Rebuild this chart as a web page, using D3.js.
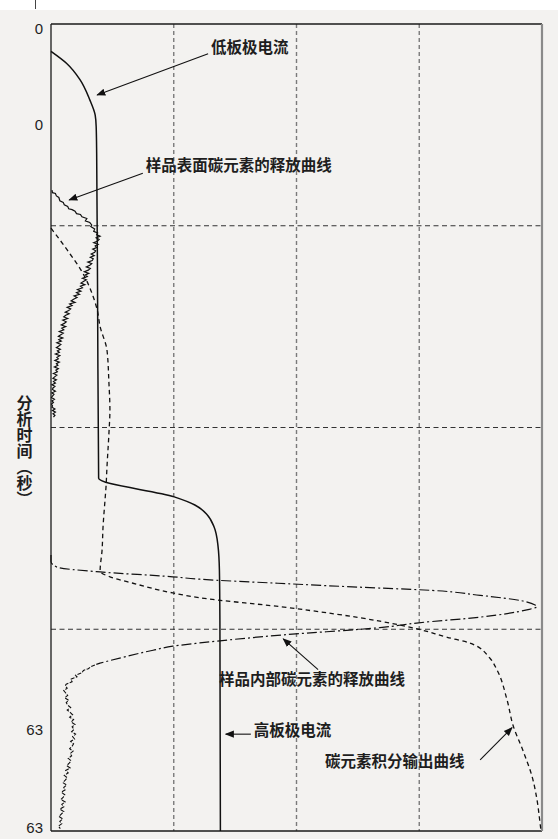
<!DOCTYPE html>
<html>
<head>
<meta charset="utf-8">
<script src="https://cdn.jsdelivr.net/npm/d3@7"></script>
<style>
  html, body { margin: 0; padding: 0; background: #ffffff; }
  svg { display: block; }
  .cjk { font-family: "Noto Sans CJK SC", "Noto Sans", sans-serif; font-weight: bold; fill: #1e1e1e; }
  .tick text { font-family: "Liberation Sans", Arial, sans-serif; font-size: 15px; fill: #1e1e1e; }
</style>
</head>
<body>
<svg id="chart" width="558" height="839"></svg>
<script>
// Signal strength (% of full scale) vs analysis time (% of run), read as [signal, time]

// plate current: low plate current phase, then high plate current phase
const plateCurrent = [
  [0, 3.4], [3.2, 4.9], [5.9, 6.9], [7.9, 9.4], [9.0, 11.3], [9.2, 12.7], [9.3, 16.0],
  [9.5, 35.7], [9.7, 56.3], [25.1, 58.6], [29.3, 59.6], [31.8, 60.8], [33.2, 62.3],
  [34.0, 64.6], [34.3, 67.7], [34.4, 73.9], [34.5, 100]
];

// surface carbon release (noisy detector trace)
const surfaceRelease = [
  [0.2, 20.6], [0.3, 20.9], [0.9, 21.0], [1.1, 21.3], [1.6, 21.5], [1.8, 21.9], [2.5, 22.1],
  [2.7, 22.4], [3.4, 22.6], [3.6, 22.9], [4.3, 23.0], [4.9, 23.2], [5.2, 23.5], [6.0, 23.6],
  [6.3, 23.9], [7.3, 24.1], [7.0, 24.4], [7.9, 24.6], [8.3, 24.9], [8.1, 25.1], [8.9, 25.4],
  [8.7, 25.7], [9.5, 25.9], [9.3, 26.1], [10.0, 26.3], [9.2, 26.5], [9.8, 26.7], [9.5, 26.9],
  [8.7, 27.1], [9.6, 27.3], [9.0, 27.5], [9.3, 27.7], [8.5, 27.9], [9.1, 28.1], [8.9, 28.3],
  [8.2, 28.5], [8.8, 28.7], [8.0, 28.9], [8.6, 29.1], [8.4, 29.3], [7.5, 29.5], [8.3, 29.7],
  [7.9, 29.9], [7.2, 30.1], [8.0, 30.3], [7.6, 30.5], [6.8, 30.7], [7.7, 30.9], [7.0, 31.1],
  [7.4, 31.3], [6.4, 31.5], [7.2, 31.7], [6.6, 31.9], [6.1, 32.1], [6.9, 32.3], [6.0, 32.5],
  [6.4, 32.7], [5.4, 32.9], [6.1, 33.1], [5.2, 33.3], [5.8, 33.5], [4.7, 33.7], [5.3, 33.9],
  [4.6, 34.1], [4.1, 34.3], [4.9, 34.5], [3.8, 34.7], [4.3, 34.9], [3.3, 35.1], [4.0, 35.3],
  [3.6, 35.5], [2.9, 35.7], [3.7, 35.9], [3.0, 36.1], [2.6, 36.3], [3.4, 36.5], [2.4, 36.7],
  [3.1, 36.9], [2.7, 37.1], [2.1, 37.3], [3.0, 37.5], [2.2, 37.7], [2.6, 37.9], [1.7, 38.1],
  [2.5, 38.3], [2.0, 38.5], [1.5, 38.7], [2.4, 38.9], [1.6, 39.1], [2.1, 39.3], [1.2, 39.5],
  [2.0, 39.7], [1.6, 39.9], [1.1, 40.1], [1.9, 40.3], [1.3, 40.5], [1.7, 40.7], [0.9, 40.9],
  [1.8, 41.1], [1.2, 41.3], [1.5, 41.5], [0.8, 41.7], [1.7, 41.9], [1.1, 42.1], [1.4, 42.3],
  [0.7, 42.5], [1.5, 42.7], [1.0, 42.9], [1.3, 43.1], [0.5, 43.3], [1.2, 43.5], [0.8, 43.7],
  [0.4, 43.9], [1.1, 44.1], [0.5, 44.3], [0.9, 44.5], [0.2, 44.7], [0.8, 44.9], [0.4, 45.1],
  [0.3, 45.3], [0.9, 45.5], [0.2, 45.7], [0.6, 45.9], [0.3, 46.1], [0.1, 46.3], [0.7, 46.5],
  [0.2, 46.7], [0.5, 46.9], [0.1, 47.1], [0.3, 47.3], [0.2, 47.5], [0.8, 47.7], [0.3, 47.9],
  [0.9, 48.1], [0.4, 48.3], [0.8, 48.5], [0.5, 48.7]
];

// internal carbon release: main peak
const internalRelease = [
  [0, 65.8], [0, 66.6], [1.2, 67.3], [10.0, 67.9], [24.8, 68.5], [30.3, 68.8], [46.2, 69.3],
  [67.0, 69.9], [74.9, 70.1], [87.4, 70.8], [96.1, 71.5], [98.6, 72.0], [99.0, 72.2],
  [96.9, 72.6], [87.4, 73.5], [74.9, 74.2], [67.0, 74.8], [47.3, 75.7], [30.3, 76.7],
  [24.8, 77.1], [20.8, 77.6], [10.0, 79.2]
];

// internal carbon release: noisy tail
const internalTail = [
  [10.0, 79.2], [9.0, 79.4], [8.2, 79.6], [7.6, 79.9], [6.6, 80.1], [6.3, 80.4], [5.0, 80.7],
  [5.3, 80.9], [4.0, 81.2], [4.3, 81.5], [3.1, 81.8], [2.9, 82.0], [3.3, 82.3], [2.6, 82.6],
  [3.0, 82.9], [3.4, 83.2], [2.8, 83.5], [3.6, 83.8], [3.1, 84.1], [3.4, 84.4], [4.0, 84.7],
  [3.3, 85.0], [3.9, 85.3], [4.4, 85.6], [3.8, 85.9], [4.6, 86.2], [4.1, 86.5], [4.9, 86.8],
  [4.3, 87.1], [4.7, 87.4], [4.2, 87.7], [5.0, 88.0], [4.4, 88.3], [4.8, 88.6], [4.0, 88.9],
  [4.6, 89.2], [4.3, 89.5], [3.8, 89.8], [4.5, 90.1], [3.9, 90.4], [4.2, 90.7], [3.5, 91.0],
  [4.1, 91.3], [3.7, 91.6], [3.2, 91.9], [3.9, 92.2], [3.0, 92.5], [3.5, 92.8], [2.7, 93.1],
  [3.3, 93.4], [2.9, 93.7], [2.4, 94.0], [3.2, 94.3], [2.6, 94.6], [2.9, 94.9], [2.1, 95.2],
  [2.8, 95.5], [2.5, 95.8], [2.0, 96.1], [2.9, 96.4], [2.2, 96.7], [2.6, 97.0], [1.8, 97.3],
  [2.6, 97.6], [2.1, 97.9], [1.6, 98.2], [2.4, 98.5], [1.8, 98.8], [2.2, 99.1], [1.5, 99.4],
  [1.9, 99.7]
];

// integrated carbon output
const integralOutput = [
  [0, 25.3], [3.3, 28.0], [6.5, 30.9], [8.6, 33.8], [9.4, 35.4], [10.0, 37.5], [11.4, 40.4],
  [11.8, 44.5], [12.0, 47.8], [11.8, 50.7], [11.4, 54.9], [11.2, 57.4], [11.0, 59.0],
  [10.6, 62.3], [10.4, 65.2], [10.0, 67.8], [12.0, 68.5], [16.7, 69.3], [24.8, 70.5],
  [30.3, 71.1], [46.6, 72.2], [67.0, 74.0], [74.9, 75.0], [80.7, 76.0], [85.3, 76.7],
  [89.4, 78.6], [90.8, 80.0], [92.9, 83.8], [94.1, 86.9], [96.1, 90.0], [98.0, 93.3],
  [99.0, 96.2], [99.6, 99.0], [99.8, 100]
];

// axis ticks
const timeTicks = [0, 12.5, 87.5, 100];
const timeTickLabels = ["0", "0", "63", "63"];
const signalGrid = [25, 50, 75];
const timeGrid = [25, 50, 75];

// callouts: text anchor [signal, time], arrow from / to
const callouts = [
  { text: "低板极电流", at: [32.6, 2.9], from: [32.0, 3.7], to: [9.4, 8.8] },
  { text: "样品表面碳元素的释放曲线", at: [19.3, 17.6], from: [18.7, 18.5], to: [3.7, 21.8] },
  { text: "样品内部碳元素的释放曲线", at: [34.2, 81.2], from: [54.4, 80.0], to: [47.3, 76.2] },
  { text: "高板极电流", at: [41.3, 87.5], from: [40.7, 88.0], to: [35.6, 88.0] },
  { text: "碳元素积分输出曲线", at: [55.8, 91.4], from: [87.4, 91.2], to: [93.9, 87.2] }
];
const yTitle = "分析时间（秒）";

const W = 558, H = 839;
const margin = { left: 51, right: 16, top: 24, bottom: 8 };

const svg = d3.select("#chart");

// page background with thin white strip along the top
svg.append("rect").attr("x", 0).attr("y", 0).attr("width", W).attr("height", H).attr("fill", "#f3f2f0");
svg.append("rect").attr("x", 0).attr("y", 0).attr("width", W).attr("height", 10).attr("fill", "#ffffff");
svg.append("line").attr("x1", 35.5).attr("x2", 35.5).attr("y1", 0).attr("y2", 9)
  .attr("stroke", "#444").attr("stroke-width", 1);

const x = d3.scaleLinear().domain([0, 100]).range([margin.left, W - margin.right]);
const y = d3.scaleLinear().domain([0, 100]).range([margin.top, H - margin.bottom]);

const defs = svg.append("defs");
defs.append("marker")
  .attr("id", "arrowhead")
  .attr("viewBox", "0 0 10 10")
  .attr("refX", 9).attr("refY", 5)
  .attr("markerWidth", 9).attr("markerHeight", 9)
  .attr("markerUnits", "userSpaceOnUse")
  .attr("orient", "auto")
  .append("path").attr("d", "M0,1 L10,5 L0,9 Z").attr("fill", "#111");

// grid
const grid = svg.append("g");
grid.selectAll("line.v").data(signalGrid).join("line")
  .attr("class", "v")
  .attr("x1", d => x(d)).attr("x2", d => x(d))
  .attr("y1", y(0)).attr("y2", y(100))
  .attr("stroke", "#7a7a7a").attr("stroke-width", 1.4).attr("stroke-dasharray", "4,3");
grid.selectAll("line.h").data(timeGrid).join("line")
  .attr("class", "h")
  .attr("x1", x(0)).attr("x2", x(100))
  .attr("y1", d => y(d)).attr("y2", d => y(d))
  .attr("stroke", "#333").attr("stroke-width", 1.1).attr("stroke-dasharray", "5,3.5");

// frame
svg.append("line").attr("x1", x(0)).attr("x2", x(100)).attr("y1", y(0)).attr("y2", y(0))
  .attr("stroke", "#1a1a1a").attr("stroke-width", 1.3);
svg.append("line").attr("x1", x(0)).attr("x2", x(100)).attr("y1", y(100)).attr("y2", y(100))
  .attr("stroke", "#1a1a1a").attr("stroke-width", 1.3);
svg.append("line").attr("x1", x(0)).attr("x2", x(0)).attr("y1", y(0)).attr("y2", y(100))
  .attr("stroke", "#1a1a1a").attr("stroke-width", 1.3);
svg.append("line").attr("x1", x(100)).attr("x2", x(100)).attr("y1", y(0)).attr("y2", y(100))
  .attr("stroke", "#8a8a8a").attr("stroke-width", 2.2);

// y axis labels
const yAxis = d3.axisLeft(y).tickValues(timeTicks).tickSize(0).tickPadding(8)
  .tickFormat((d, i) => timeTickLabels[i]);
const gy = svg.append("g").attr("transform", `translate(${x(0)},0)`).call(yAxis);
gy.select(".domain").remove();
gy.selectAll(".tick text")
  .attr("dy", (d, i) => i === 0 ? "0.6em" : (i === timeTicks.length - 1 ? "0.08em" : "0.32em"));

// vertical axis title
svg.append("text")
  .attr("class", "cjk")
  .attr("x", 24.5).attr("y", 395)
  .attr("font-size", 16)
  .style("writing-mode", "vertical-rl")
  .text(yTitle);

const smooth = d3.line().x(d => x(d[0])).y(d => y(d[1])).curve(d3.curveMonotoneY);
const raw = d3.line().x(d => x(d[0])).y(d => y(d[1]));

const curves = svg.append("g").attr("fill", "none").attr("stroke", "#111");

curves.append("path").datum(plateCurrent).attr("d", smooth).attr("stroke-width", 1.5);
curves.append("path").datum(surfaceRelease).attr("d", raw).attr("stroke-width", 1.2);
curves.append("path").datum(internalRelease).attr("d", smooth)
  .attr("stroke-width", 1.2).attr("stroke-dasharray", "10,3,2,3");
curves.append("path").datum(internalTail).attr("d", raw)
  .attr("stroke-width", 1.1).attr("stroke-dasharray", "4,1.5");
curves.append("path").datum(integralOutput).attr("d", smooth)
  .attr("stroke-width", 1.3).attr("stroke-dasharray", "4.5,3.5");

// callouts
const notes = svg.append("g");
notes.selectAll("line").data(callouts).join("line")
  .attr("x1", d => x(d.from[0])).attr("y1", d => y(d.from[1]))
  .attr("x2", d => x(d.to[0])).attr("y2", d => y(d.to[1]))
  .attr("stroke", "#111").attr("stroke-width", 1.1)
  .attr("marker-end", "url(#arrowhead)");
notes.selectAll("text").data(callouts).join("text")
  .attr("class", "cjk")
  .attr("x", d => x(d.at[0])).attr("y", d => y(d.at[1]))
  .attr("dy", "0.35em")
  .attr("font-size", 15.5)
  .text(d => d.text);
</script>
</body>
</html>
